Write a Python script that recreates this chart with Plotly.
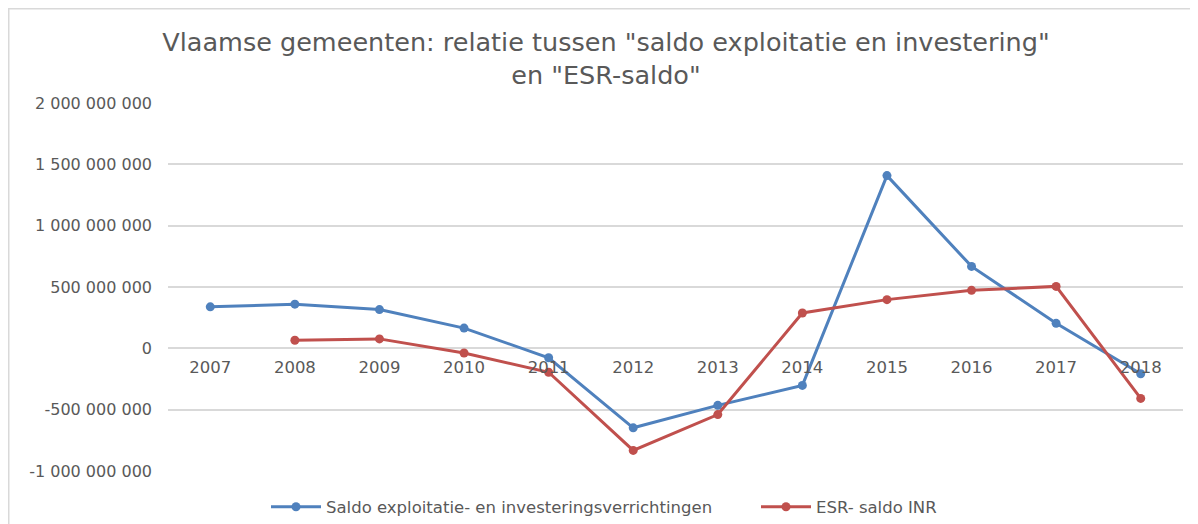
import plotly.graph_objects as go

years = ["2007", "2008", "2009", "2010", "2011", "2012", "2013", "2014", "2015", "2016", "2017", "2018"]
saldo_expl_inv = [338e6, 360e6, 316e6, 165e6, -77e6, -648e6, -465e6, -302e6, 1408e6, 668e6, 204e6, -207e6]
esr_saldo = [None, 66e6, 77e6, -38e6, -195e6, -832e6, -540e6, 288e6, 397e6, 473e6, 505e6, -408e6]
name_blue = "Saldo exploitatie- en investeringsverrichtingen"
name_red = "ESR- saldo INR"
y_tickvals = [-1e9, -5e8, 0, 5e8, 1e9, 1.5e9, 2e9]
y_ticktext = ["-1 000 000 000", "-500 000 000", "0", "500 000 000", "1 000 000 000", "1 500 000 000", "2 000 000 000"]

# page body adds an 8px offset; figure coordinates below are screen - 8
W, H = 1190, 516
L, R, T, B = 160, 15, 95, 53
pw = W - L - R
ph = H - T - B


def px_x(x):
    return (x - L) / pw


def px_y(y):
    return (H - B - y) / ph


FONT = "DejaVu Sans"
GREY = "#595959"

fig = go.Figure()
fig.add_trace(go.Scatter(x=years, y=saldo_expl_inv, name=name_blue, mode="lines+markers",
                         line=dict(color="#4F81BD", width=3), marker=dict(size=9, color="#4F81BD"),
                         legend="legend"))
fig.add_trace(go.Scatter(x=years, y=esr_saldo, name=name_red, mode="lines+markers",
                         line=dict(color="#C0504D", width=3), marker=dict(size=9, color="#C0504D"),
                         legend="legend2"))

border = dict(color="#d9d9d9", width=1.5)
fig.add_shape(type="line", xref="paper", yref="paper", x0=px_x(0), x1=px_x(W), y0=px_y(0.75), y1=px_y(0.75),
              line=border, layer="below")
fig.add_shape(type="line", xref="paper", yref="paper", x0=px_x(0.75), x1=px_x(0.75), y0=px_y(0), y1=px_y(H),
              line=border, layer="below")

leg_common = dict(orientation="h", yanchor="middle", y=px_y(499), xanchor="left",
                  font=dict(family=FONT, size=16.5, color=GREY), itemwidth=50,
                  bgcolor="rgba(0,0,0,0)", tracegroupgap=0)

fig.update_layout(
    width=W, height=H,
    margin=dict(l=L, r=R, t=T, b=B, autoexpand=False),
    paper_bgcolor="white", plot_bgcolor="white",
    font=dict(family=FONT, color=GREY),
    title=dict(text='Vlaamse gemeenten: relatie tussen "saldo exploitatie en investering"<br>en "ESR-saldo"',
               x=598 / W, xanchor="center", y=1 - 43 / H, yanchor="middle",
               font=dict(family=FONT, size=25.5, color=GREY)),
    showlegend=True,
    legend=dict(x=px_x(258), **leg_common),
    legend2=dict(x=px_x(748), **leg_common),
    xaxis=dict(type="category", showgrid=False, showline=False, ticks="", anchor="free", position=1 / 3,
               tickfont=dict(family=FONT, size=16.5, color=GREY), range=[-0.5, 11.5], ticklabelstandoff=7),
    yaxis=dict(range=[-1e9, 2e9], tickvals=y_tickvals, ticktext=y_ticktext, showgrid=True,
               gridcolor="#d9d9d9", gridwidth=1.5, zeroline=False, showline=False, ticks="",
               tickfont=dict(family=FONT, size=16, color=GREY), ticklabelstandoff=15),
)

fig.write_html("out.html")
